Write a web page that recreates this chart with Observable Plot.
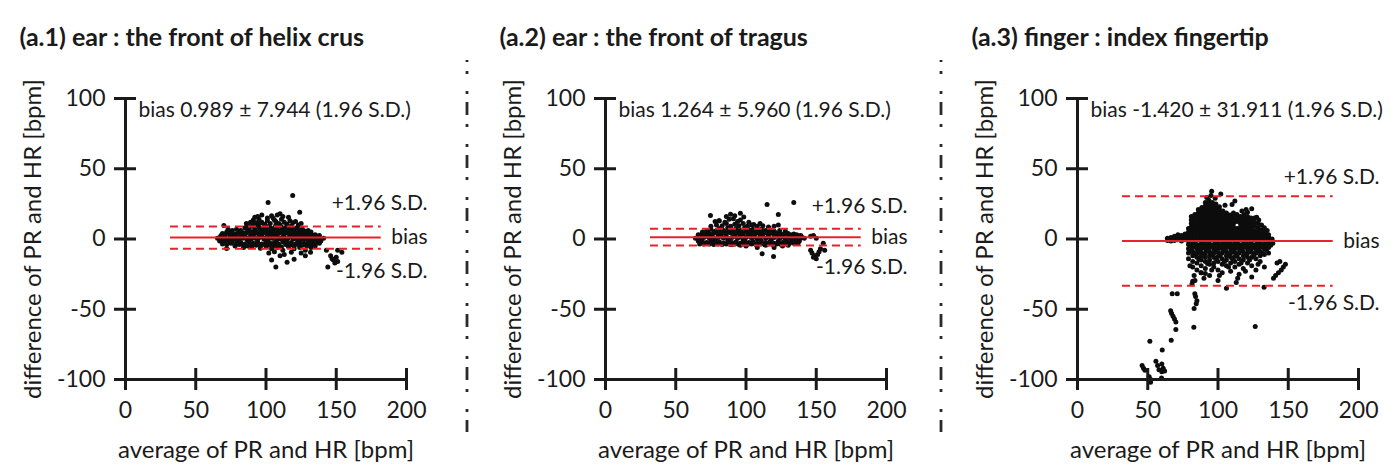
<!DOCTYPE html>
<html>
<head>
<meta charset="utf-8">
<script src="https://cdn.jsdelivr.net/npm/d3@7"></script>
<script src="https://cdn.jsdelivr.net/npm/@observablehq/plot@0.6"></script>
<style>
  body { margin: 0; background: #fff; }
  #chart { position: relative; width: 1397px; height: 466px; overflow: hidden; font-family: Lato, sans-serif; }
  #chart svg { position: absolute; top: 0; }
</style>
</head>
<body>
<div id="chart"></div>
<script>
// Bland–Altman comparison of pulse rate (PR) against heart rate (HR) at three sites.
const panelTitles = [
  "(a.1) ear : the front of helix crus",
  "(a.2) ear : the front of tragus",
  "(a.3) finger : index fingertip"
];
const biasValues = [0.989, 1.264, -1.420];
const sdValues = [7.944, 5.960, 31.911];   // 1.96 S.D.
const xTicks = [0, 50, 100, 150, 200];
const yTicks = [-100, -50, 0, 50, 100];
const limitSpan = [32, 182];
const limitLabels = ["+1.96 S.D.", "bias", "-1.96 S.D."];
const xLabel = "average of PR and HR [bpm]";
const yLabel = "difference of PR and HR [bpm]";

// [average, difference] pairs, bpm
const helixPoints = [
  [65.5,0.5],[67,1],[68.5,0],[70,1.5],[71.5,0.5],[73,-0.5],[74.5,1],[76,2],[77.5,0],[79,1],[80.5,-1],[82,1.5],[83.5,0.5],[85,2],[86.5,-0.5],[88,1],[89.5,0],[91,1.5],[92.5,0.5],[94,-1],[95.5,1],[97,2],[98.5,0],[100,1],[101.5,-0.5],[103,1.5],[104.5,0.5],[106,2],[107.5,-1],[109,1],[110.5,0],[112,1.5],[113.5,0.5],[115,-0.5],[116.5,1],[118,2],[119.5,0],[121,1],[122.5,-1],[124,1.5],[125.5,0.5],[127,0],[128.5,1],[130,-0.5],[131.5,0.5],[133,1],[134.5,0],[136,0.5],[137.5,-0.5],[139,0],[141,0.5],
  [68,2.5],[71,3],[74,3.5],[77,2.5],[80,4],[83,3],[86,4.5],[89,3.5],[92,4],[95,3],[98,4.5],[101,3.5],[104,4],[107,3],[110,4.5],[113,3.5],[116,4],[119,3],[122,3.5],[125,3],[128,2.5],[131,3],[134,2.5],[137,2],
  [67,-1.5],[70,-2],[73,-2.5],[76,-1.5],[79,-3],[82,-2.5],[85,-3.5],[88,-2],[91,-3],[94,-2.5],[97,-3.5],[100,-2],[103,-3],[106,-2.5],[109,-3.5],[112,-2],[115,-3],[118,-2.5],[121,-3.5],[124,-2],[127,-3],[130,-2.5],[133,-2],[136,-1.5],[139,-1.5],
  [69,4],[72,5],[75,4.5],[78,3.5],[81,5.5],[84,4.5],[87,6],[90,5],[93,5.5],[96,4.5],[99,6],[102,5],[105,5.5],[108,4.5],[111,6],[114,5],[117,5.5],[120,4.5],[123,5],[126,4.5],[129,4],[132,3.5],[135,3],[138,2.5],
  [69,-3.5],[72,-4],[75,-3],[78,-4.5],[81,-4],[84,-4.5],[87,-5],[90,-4],[93,-4.5],[96,-5],[99,-4],[102,-4.5],[105,-5],[108,-4],[111,-5.5],[114,-4],[117,-4.5],[120,-5],[123,-4],[126,-4.5],[129,-5],[132,-4],[135,-3.5],[138,-3],
  [76,6],[79,7],[82,6],[85,8],[88,6.5],[90,9],[92,7],[94,10],[96,6.5],[98,8],[100,7],[102,9],[104,6],[106,8],[108,7],[110,10],[112,6.5],[114,8],[116,7],[118,9],[120,6],[122,8],[124,6.5],[126,7],[128,5.5],[130,6],[132,5],
  [87,9.5],[91,10.5],[95,8.5],[99,9.5],[103,8],[107,10],[111,8.5],[115,9.5],[119,8],[96,11.5],[101,15],[106,13.5],
  [86,11],[89,12],[91,13.5],[93,11.5],[95,14],[97,12],[99,10.5],[101,13],[103,11],[105,15],[107,12.5],[109,11],[111,14],[113,12],[115,10.5],[117,13],[119,11.5],[121,12.5],[123,10],[125,11],
  [92,15.5],[94,16],[104,16.5],[108,17],[112,16],[116,15.5],[110,18],[97,17],
  [78,-5],[84,-6],[90,-5.5],[96,-6.5],[100,-5],[104,-7],[108,-6],[112,-8],[116,-5.5],[120,-7],[124,-6],[128,-8],[132,-6],[135,-5],
  [102,-10],[106,-9],[110,-12],[104,-15],[107,-20],[115,-16.5],[120,-14.5],[113,-11],[125,-10],[131.7,-9.4],[128,-12],[118,-9.5],
  [70,9.6],[72,-6.8],[73,7],
  [119,31],[101.5,26],[124,19],
  [146,-12],[147,-14],[148,-15],[149,-17],[151,-16],[144,-20],[154,-9.4],[151,-8],[143,-8],[150,-13]
];

const tragusPoints = [
  [64,0.5],[66,1.5],[68,0],[70,1],[72,2],[74,0.5],[76,1.5],[78,-0.5],[80,1],[82,2],[84,0.5],[86,1.5],[88,0],[90,1],[92,2],[94,0.5],[96,1.5],[98,-0.5],[100,1],[102,2],[104,0.5],[106,1.5],[108,0],[110,1],[112,2],[114,0.5],[116,1.5],[118,-0.5],[120,1],[122,2],[124,0.5],[126,1.5],[128,0],[130,1],[132,1.5],[134,0.5],[136,1],[138,0],[140,1],[141.5,0.5],
  [68,3],[71,4],[74,3.5],[77,4.5],[80,3],[83,4],[86,3.5],[89,4.5],[92,3],[95,4],[98,3.5],[101,4.5],[104,3],[107,4],[110,3.5],[113,4.5],[116,3],[119,4],[122,3.5],[125,3],[128,4],[131,3],[134,3.5],[137,2.5],
  [66,-1.5],[69,-2],[72,-2.5],[75,-1.5],[78,-2.5],[81,-2],[84,-3],[87,-1.5],[90,-2.5],[93,-2],[96,-3],[99,-1.5],[102,-2.5],[105,-2],[108,-3],[111,-1.5],[114,-2.5],[117,-2],[120,-3],[123,-1.5],[126,-2.5],[129,-2],[132,-1.5],[135,-2],[138,-1.5],
  [66,3],[69,5],[73,5],[76,3],[79,5],[82,5],[85,5],[88,5.5],[91,5],[94,5.5],[97,5],[100,5.5],[103,5],[106,5],[109,5],[112,5],[115,4.5],[118,5],[121,4.5],[124,4.5],[127,3.5],[130,4],[133,3],[136,3],[139,2.5],
  [67,-3.5],[70,-3.5],[74,-3.5],[77,-4],[80,-3.5],[83,-4],[86,-3.5],[89,-4],[92,-3.5],[95,-4],[98,-3.5],[101,-4],[104,-3.5],[107,-4],[110,-3.5],[113,-4],[116,-3.5],[119,-4],[122,-3.5],[125,-4],[128,-3.5],[131,-3],[134,-3],[137,-3],
  [72,6],[75,7],[78,5.5],[81,7.5],[84,6],[87,8],[90,6.5],[93,7.5],[96,6],[99,8],[102,6.5],[105,7],[108,5.5],[111,7],[114,6],[117,6.5],[120,5.5],[124,6],[128,5.5],
  [75,9],[79,10],[83,9.5],[86,11],[89,9],[92,10.5],[95,9.5],[98,11],[101,9],[104,10],[108,9],[112,9.5],[116,8.5],[120,9],[123,10],
  [78,12.5],[81,13],[85,12],[88,14],[91,14.5],[94,12.5],[98.4,15.6],[102,12],[105.5,10.4],[110,11],[96,13.5],
  [74.7,16.7],[80.7,13],[89,17.6],[96,18.4],[86,16],[92,16.5],[115,24.5],[134,26],[123,17.4],
  [96,-4.5],[100,-5],[108,-6],[114,-4.5],[120,-6],[126,-5],[111.5,-10.5],[119.6,-12.5],[90,-4],[130,-4.5],
  [146,2],[148,2.5],[150,0.5],[155,-3],[153,-7],[146,-8],[147,-10],[149,-12],[150,-14],[151,-11],[156,-8],[148,-13],[152,-9]
];

const fingertipPoints = [
  // dense cloud at and above the bias line
  [64,0.5],[64,-1],[66.5,1],[66.5,-1.5],[69,0.5],[69,2],[69,-1],[71.5,1.5],[71.5,-0.5],[71.5,3],[74,0.5],[74,2.5],[74,-1.5],[76.5,1],[76.5,3.5],[76.5,-0.5],
  [79,0],[79,2.5],[79,5],[79,7.5],[79,-1.5],
  [81,1],[81,3.5],[81,6],[81,8.5],[81,11],[81,13.5],[81,16],[81,-1],
  [83.5,0],[83.5,2.5],[83.5,5],[83.5,7.5],[83.5,10],[83.5,12.5],[83.5,15],[83.5,17.5],[83.5,-1.5],
  [86,1],[86,3.5],[86,6],[86,8.5],[86,11],[86,13.5],[86,16],[86,18.5],[86,21],[86,-0.5],
  [88.5,0],[88.5,2.5],[88.5,5],[88.5,7.5],[88.5,10],[88.5,12.5],[88.5,15],[88.5,17.5],[88.5,20],[88.5,22.5],[88.5,-1.5],
  [91,1],[91,3.5],[91,6],[91,8.5],[91,11],[91,13.5],[91,16],[91,18.5],[91,21],[91,23.5],[91,26],[91,-1],
  [93.5,0],[93.5,2.5],[93.5,5],[93.5,7.5],[93.5,10],[93.5,12.5],[93.5,15],[93.5,17.5],[93.5,20],[93.5,22.5],[93.5,25],[93.5,27.5],[93.5,-1.5],
  [96,1],[96,3.5],[96,6],[96,8.5],[96,11],[96,13.5],[96,16],[96,18.5],[96,21],[96,23.5],[96,26],[96,-0.5],
  [98.5,0],[98.5,2.5],[98.5,5],[98.5,7.5],[98.5,10],[98.5,12.5],[98.5,15],[98.5,17.5],[98.5,20],[98.5,22.5],[98.5,25],[98.5,-1.5],
  [101,1],[101,3.5],[101,6],[101,8.5],[101,11],[101,13.5],[101,16],[101,18.5],[101,21],[101,23],[101,-1],
  [103.5,0],[103.5,2.5],[103.5,5],[103.5,7.5],[103.5,10],[103.5,12.5],[103.5,15],[103.5,17.5],[103.5,20],[103.5,-1.5],
  [106,1],[106,3.5],[106,6],[106,8.5],[106,11],[106,13.5],[106,16],[106,18.5],[106,-0.5],
  [108.5,0],[108.5,2.5],[108.5,5],[108.5,7.5],[108.5,10],[108.5,12.5],[108.5,15],[108.5,17],[108.5,-1.5],
  [111,1],[111,3.5],[111,6],[111,8.5],[111,11],[111,13.5],[111,16],[111,18.5],[111,-1],
  [113.5,0],[113.5,2.5],[113.5,5],[113.5,7.5],[113.5,12.5],[113.5,15],[113.5,17.5],[113.5,-1.5],
  [116,1],[116,3.5],[116,6],[116,8.5],[116,11],[116,13.5],[116,16],[116,-0.5],
  [118.5,0],[118.5,2.5],[118.5,5],[118.5,7.5],[118.5,10],[118.5,12.5],[118.5,15],[118.5,17.5],[118.5,-1.5],
  [121,1],[121,3.5],[121,6],[121,8.5],[121,11],[121,13.5],[121,16],[121,19],[121,-1],
  [123.5,0],[123.5,2.5],[123.5,5],[123.5,7.5],[123.5,10],[123.5,12.5],[123.5,15],[123.5,-1.5],
  [126,1],[126,3.5],[126,6],[126,9],[126,12],[126,15],[126,-0.5],
  [128.5,0],[128.5,2.5],[128.5,5],[128.5,8],[128.5,11],[128.5,-1.5],
  [131,1],[131,3.5],[131,6.5],[131,10],[131,-1],
  [133.5,0],[133.5,2.5],[133.5,5],[133.5,-1.5],
  [136,1],[136,3],[136,-0.5],[138.5,0],[138.5,-1.5],
  [95,31],[95.5,34],[102,32],[110,24.5],[112,27],[124,21.5],[127.5,15.5],[98,29],[92,29.5],[105,24],[117,20],[120,21],[129,13.5],[133,8],[135,6],
  // spread below the bias line
  [79,-4],[79,-7],[79,-10],[79,-14],
  [82,-3.5],[82,-6],[82,-9],[82,-12],[82,-16],[82,-20],
  [85,-4],[85,-7],[85,-10],[85,-13],[85,-17],[85,-22],
  [88,-3.5],[88,-6.5],[88,-9.5],[88,-12],[88,-15],[88,-19],[88,-24],
  [91,-4],[91,-7],[91,-10],[91,-13],[91,-16],[91,-21],
  [94,-3.5],[94,-6],[94,-9],[94,-12],[94,-15],[94,-18],[94,-26],
  [97,-4],[97,-7],[97,-10],[97,-13],[97,-17],[97,-20],
  [100,-3.5],[100,-6.5],[100,-9.5],[100,-12.5],[100,-16],[100,-22],[100,-29.5],
  [103,-4],[103,-7],[103,-10],[103,-14],[103,-18],[103,-24],
  [106,-3.5],[106,-6],[106,-9],[106,-12],[106,-15],[106,-19],[106,-35],
  [109,-4],[109,-7],[109,-10],[109,-13],[109,-17],[109,-23],
  [112,-3.5],[112,-6.5],[112,-9.5],[112,-12.5],[112,-16],[112,-20],[113,-31],
  [115,-4],[115,-7],[115,-10],[115,-14],[115,-18],[115,-25],
  [118,-3.5],[118,-6],[118,-9],[118,-12],[118,-15],[118,-21],
  [121,-4],[121,-7],[121,-10],[121,-13],[121,-17],
  [124,-3.5],[124,-6.5],[124,-9.5],[124,-13],[124,-19],[124,-27],
  [127,-4],[127,-7],[127,-10],[127,-14],[127,-22],
  [130,-3.5],[130,-6],[130,-9],[130,-12],[130,-16],
  [133,-4],[133,-7],[133,-11],[133,-20],
  [136,-3.5],[136,-6],[136,-10],[139,-3],
  [80.5,-5.5],[83.5,-5],[86.5,-5.5],[89.5,-5],[92.5,-5.5],[95.5,-5],[98.5,-5.5],[101.5,-5],[104.5,-5.5],[107.5,-5],[110.5,-5.5],[113.5,-5],[116.5,-5.5],[119.5,-5],[122.5,-5.5],[125.5,-5],[128.5,-5.5],[131.5,-5],[134.5,-5],[137.5,-4.5],
  [80.5,-8.5],[83.5,-11],[86.5,-8.5],[89.5,-11.5],[92.5,-8],[95.5,-11],[98.5,-8.5],[101.5,-11.5],[104.5,-8],[107.5,-11],[110.5,-8.5],[113.5,-11.5],[116.5,-8],[119.5,-11],[122.5,-8.5],[125.5,-11.5],[128.5,-8],[131.5,-10],[134.5,-8],
  [86.5,-14.5],[92.5,-17.5],[98.5,-14],[104.5,-16],[110.5,-14.5],[116.5,-17],[122.5,-15],[128.5,-18],[95.5,-22],[107.5,-20],[119.5,-23],[101,-26],[90,-28],[114,-28],
  [132.8,-34.3],[126.5,-62.3],
  [139.5,-28],[141,-26],[143,-24],[145,-22],[146.5,-20],[148,-18],[142,-17],[144,-16],
  // low tail at small averages
  [80,-19],[83,-26],[82,-30],[83.6,-29.5],[81.5,-32],[84,-41],[84.5,-46],[83,-49.5],[83.5,-39],[82.8,-62.8],[85,-44],[88,-24],[91,-24.5],
  [67.4,-39],[71,-39],
  [66.3,-51],[67,-53],[68,-55],[69,-57],[70,-59],[70,-64.5],
  [66.7,-72],[51.5,-72.7],[60.3,-79],
  [46,-90],[47,-92],[48,-93.5],
  [55.8,-87],[57,-90],[58,-93],[60,-89],[61,-92],[62,-94],[60,-94.5],
  [52,-100],[52,-102],[59.8,-99],[51,-98]
];

const panelPoints = [helixPoints, tragusPoints, fingertipPoints];
// horizontal offsets of the three panels and the vertical gaps of the limit labels
const panelLeft = [0, 480, 952];
const upperGap = [23, 23, 19];
const lowerGap = [22, 22, 17];

const ink = "#1a1a1a";
const red = "#e8222a";
const font = "Lato, 'Open Sans', sans-serif";
const chart = document.getElementById("chart");

panelTitles.forEach((title, i) => {
  const bias = biasValues[i];
  const sd = sdValues[i];
  const upper = bias + sd;
  const lower = bias - sd;
  const svg = Plot.plot({
    width: 445,
    height: 466,
    marginLeft: 125,
    marginRight: 39,
    marginTop: 98,
    marginBottom: 87,
    x: {domain: [0, 200]},
    y: {domain: [-100, 100]},
    style: {fontFamily: font, fontSize: "21px", color: ink, background: "transparent", overflow: "visible"},
    marks: [
      Plot.dot(panelPoints[i], {x: d => d[0], y: d => d[1], r: 2.5, fill: "#0d0d0d", stroke: null}),
      Plot.ruleY([upper, lower], {x1: limitSpan[0], x2: limitSpan[1], stroke: red, strokeWidth: 2, strokeDasharray: "8,5"}),
      Plot.ruleY([bias], {x1: limitSpan[0], x2: limitSpan[1], stroke: red, strokeWidth: 2}),
      // axis lines with ticks crossing them
      Plot.ruleX([0], {y1: -100, y2: 100, stroke: ink, strokeWidth: 3}),
      Plot.ruleY([-100], {x1: 0, x2: 200, stroke: ink, strokeWidth: 3}),
      Plot.ruleY(yTicks, {x1: 0, x2: 0, insetLeft: -11, insetRight: -11, stroke: ink, strokeWidth: 3}),
      Plot.ruleX(xTicks, {y1: -100, y2: -100, insetTop: -11, insetBottom: -11, stroke: ink, strokeWidth: 3}),
      Plot.axisY({ticks: yTicks, tickSize: 0, tickPadding: 20, tickFormat: d => `${d}`, label: null, fontSize: 23}),
      Plot.axisX({ticks: xTicks, tickSize: 0, tickPadding: 22, tickFormat: d => `${d}`, label: null, fontSize: 23}),
      Plot.text([yLabel], {frameAnchor: "left", rotate: -90, dx: -92, textAnchor: "middle", lineAnchor: "middle", fontSize: 24, fill: ink}),
      Plot.text([xLabel], {frameAnchor: "bottom", dy: 71, textAnchor: "middle", lineAnchor: "middle", fontSize: 24, fill: ink}),
      Plot.text([title], {frameAnchor: "top-left", dx: -106, dy: -53, textAnchor: "start", lineAnchor: "bottom", fontWeight: "bold", fontSize: 25, fill: ink}),
      Plot.text([`bias ${bias.toFixed(3)} ± ${sd.toFixed(3)} (1.96 S.D.)`], {frameAnchor: "top-left", dx: 13, dy: 12, textAnchor: "start", lineAnchor: "middle", fontSize: 21, fill: ink}),
      Plot.text([upper], {y: d => d, frameAnchor: "right", dx: 21, dy: -upperGap[i], textAnchor: "end", lineAnchor: "middle", text: () => limitLabels[0], fontSize: 21, fill: ink}),
      Plot.text([bias], {y: d => d, frameAnchor: "right", dx: 21, textAnchor: "end", lineAnchor: "middle", text: () => limitLabels[1], fontSize: 21, fill: ink}),
      Plot.text([lower], {y: d => d, frameAnchor: "right", dx: 21, dy: lowerGap[i], textAnchor: "end", lineAnchor: "middle", text: () => limitLabels[2], fontSize: 21, fill: ink})
    ]
  });
  svg.style.left = `${panelLeft[i]}px`;
  chart.appendChild(svg);
});

// dash-dot-dot separators between the panels
const separators = d3.select(chart).append("svg")
  .attr("width", 1397).attr("height", 466)
  .style("left", "0px").style("pointer-events", "none");
separators.selectAll("line")
  .data([467, 941])
  .join("line")
  .attr("x1", d => d).attr("x2", d => d)
  .attr("y1", 60).attr("y2", 432)
  .attr("stroke", "#2a2a2a")
  .attr("stroke-width", 2.8)
  .attr("stroke-dasharray", "13,9,3,17,3,8")
  .attr("stroke-dashoffset", 11);
</script>
</body>
</html>
